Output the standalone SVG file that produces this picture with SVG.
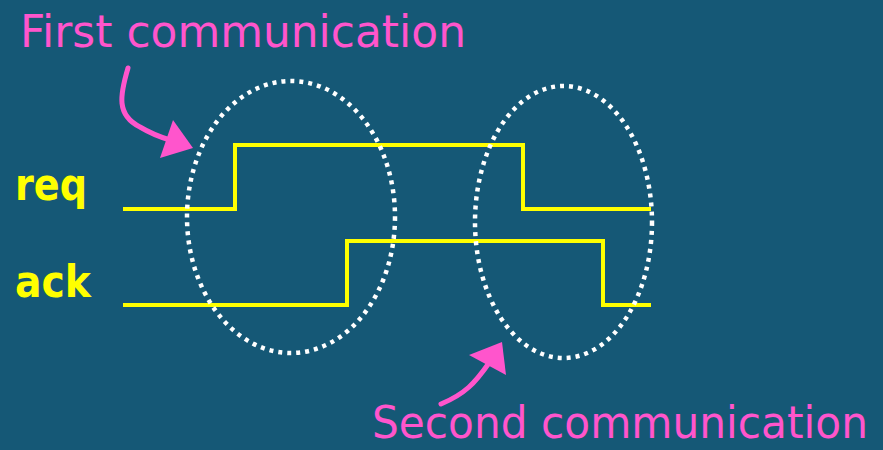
<svg xmlns="http://www.w3.org/2000/svg" width="883" height="450" viewBox="0 0 883 450">
<style>
.sig{fill:none;stroke:#ffff00;stroke-width:4;stroke-linejoin:miter}
.ell{fill:none;stroke:#ffffff;stroke-width:4.5;stroke-dasharray:4 5}
.lbl{fill:#ffff00;font-family:"Comic Sans MS","DejaVu Sans",sans-serif;font-weight:bold;font-size:44px}
.note{fill:#ff55cc;font-family:"Comic Sans MS","DejaVu Sans",sans-serif;font-size:44px}
.arr{fill:none;stroke:#ff55cc;stroke-width:5;stroke-linecap:round}
.head{fill:#ff55cc}
</style>
<rect width="883" height="450" fill="#155876"/>
<g id="labels">
<text class="lbl" x="15" y="200" textLength="72" lengthAdjust="spacingAndGlyphs">req</text>
<text class="lbl" x="15" y="297" textLength="76" lengthAdjust="spacingAndGlyphs">ack</text>
</g>
<g id="signals">
<path id="req" class="sig" d="M123 209 H235 V145 H523 V209 H651"/>
<path id="ack" class="sig" d="M123 305 H347 V241 H603 V305 H651"/>
</g>
<g id="first-communication">
<ellipse class="ell" cx="291" cy="217" rx="104" ry="136"/>
<text class="note" x="20" y="47" textLength="446" lengthAdjust="spacingAndGlyphs">First communication</text>
</g>
<g id="second-communication">
<ellipse class="ell" cx="563.5" cy="222" rx="88.5" ry="136"/>
<text class="note" x="372" y="438" font-size="40" textLength="496" lengthAdjust="spacingAndGlyphs">Second communication</text>
</g>
<g id="connectors">
<path class="arr" d="M128 68 C120 95 116 115 140 127 C150 133 160 137 170 140"/>
<polygon class="head" points="193,148 173,120 160,158"/>
<path class="arr" d="M441 404 C465 394 475 383 489 363"/>
<polygon class="head" points="502,342 469,355 506,375"/>
</g>
</svg>
